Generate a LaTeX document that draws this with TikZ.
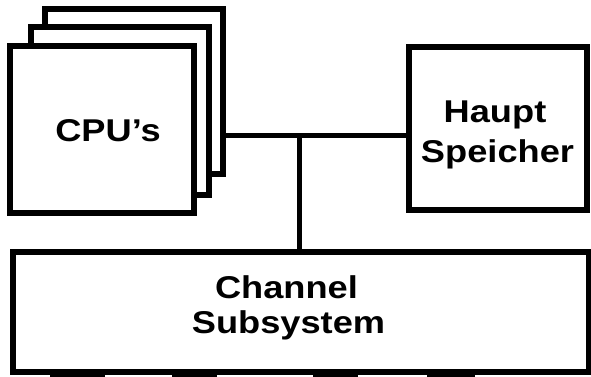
\documentclass[tikz,border=0pt]{standalone}
\usepackage{fontspec}
\setmainfont{Liberation Sans}[FakeStretch=1.15]
\begin{document}
\begin{tikzpicture}[x=1pt,y=-1pt,
  unit/.style={draw,line width=6pt,fill=white,rectangle,inner sep=0pt},
  lbl/.style={anchor=base,inner sep=0pt,font=\fontsize{31.5}{31.5}\selectfont\bfseries},
  wire/.style={line width=5.5pt}]
  \useasboundingbox (0,0) rectangle (591,377);
  % stacked processors, back to front
  \node[unit,minimum width=178pt,minimum height=165pt] (cpuc) at (134,91.5) {};
  \node[unit,minimum width=178pt,minimum height=168pt] (cpub) at (120,111) {};
  \node[unit,minimum width=184pt,minimum height=167pt] (cpua) at (102,129.5) {};
  \node[lbl] (cputxt) at (108,142) {CPU’s};
  % main memory
  \node[unit,minimum width=178pt,minimum height=163pt] (mem) at (497.5,128.5) {};
  \node[lbl] (memtxta) at (495,122) {Haupt};
  \node[lbl] (memtxtb) at (497.5,162) {Speicher};
  % channel subsystem
  \node[unit,minimum width=575.5pt,minimum height=120.5pt] (chan) at (300.75,311.75) {};
  \node[lbl] (chantxta) at (286.5,298) {Channel};
  \node[lbl] (chantxtb) at (288.5,333) {Subsystem};
  % bus
  \coordinate (bus) at (299.5,135.5);
  \draw[wire] (bus -| cpuc.east) -- (bus -| mem.west);
  \draw[wire] (bus) -- (bus |- chan.north);
  % attachments below the channel subsystem
  \foreach \a/\b in {50/105,172/217,313/358,427/475}
    \fill (\a,375) rectangle (\b,377);
\end{tikzpicture}
\end{document}
